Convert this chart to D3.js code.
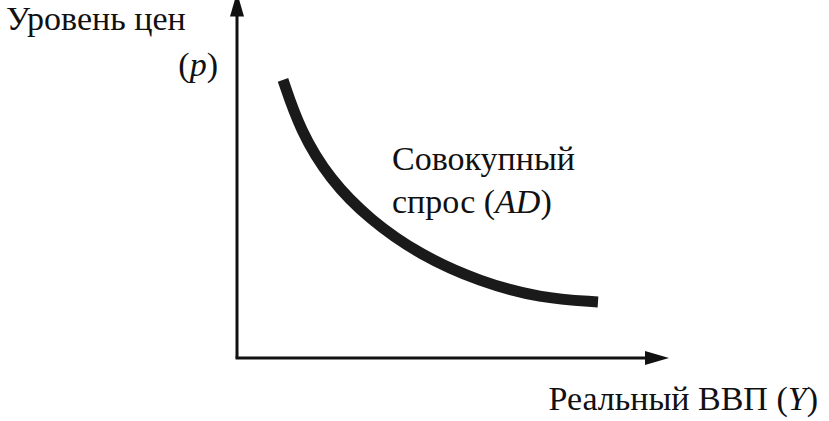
<!DOCTYPE html>
<html><head><meta charset="utf-8">
<script src="https://cdn.jsdelivr.net/npm/d3@7"></script>
<style>body{margin:0;background:#fff} text{font-family:"Liberation Serif","DejaVu Serif","Times New Roman",serif}</style>
</head><body>
<script>
const curveX = [1.15, 1.575, 2.325, 3.325, 4.575, 6.075, 7.575, 9.025];
const curveY = [8.18, 6.7, 5.24, 4.06, 3.03, 2.24, 1.76, 1.65];
const yLabel = ["Уровень цен", "(p)"];
const xLabel = "Реальный ВВП (Y)";
const curveLabel = ["Совокупный", "спрос (AD)"];

const W = 829, H = 421;
const svg = d3.select("body").append("svg").attr("width", W).attr("height", H);
const x = d3.scaleLinear().domain([0, 10]).range([237, 637]);
const y = d3.scaleLinear().domain([0, 10]).range([358, 18]);

const ax = svg.append("g").attr("stroke","#111").attr("stroke-width",3).attr("fill","none");
ax.append("path").attr("d",`M${x(0)},${y(0)} L${x(0)},${y(10.4)}`);
ax.append("path").attr("d",`M${x(0)-1.5},${y(0)} L${x(10.5)},${y(0)}`);
svg.append("path").attr("d",`M${x(0)},${y(10.4)-12} L${x(0)-7},${y(10.4)+12} L${x(0)+7},${y(10.4)+12} Z`).attr("fill","#111");
svg.append("path").attr("d",`M${x(10.5)+12},${y(0)} L${x(10.5)-12},${y(0)-7} L${x(10.5)-12},${y(0)+7} Z`).attr("fill","#111");

const pts = curveX.map((v,i)=>[x(v), y(curveY[i])]);
svg.append("path").attr("d", d3.line().curve(d3.curveBasis)([pts[0], ...pts, pts[pts.length-1]]))
  .attr("fill","none").attr("stroke","#1a1a1a").attr("stroke-width",11);

const FS = 34;
const txt = (px, py, anchor) => svg.append("text").attr("x",px).attr("y",py)
  .attr("text-anchor",anchor||"start").attr("font-size",FS).attr("fill","#111");

txt(6, 30).text(yLabel[0]);
const p = txt(218, 76, "end");
p.append("tspan").text("(");
p.append("tspan").attr("font-style","italic").text("p");
p.append("tspan").text(")");

txt(392, 170).text(curveLabel[0]);
const c2 = txt(392, 213);
c2.append("tspan").text("спрос (");
c2.append("tspan").attr("font-style","italic").text("AD");
c2.append("tspan").text(")");

const xl = txt(818, 410, "end");
xl.append("tspan").text("Реальный ВВП (");
xl.append("tspan").attr("font-style","italic").text("Y");
xl.append("tspan").text(")");
</script>
</body></html>
